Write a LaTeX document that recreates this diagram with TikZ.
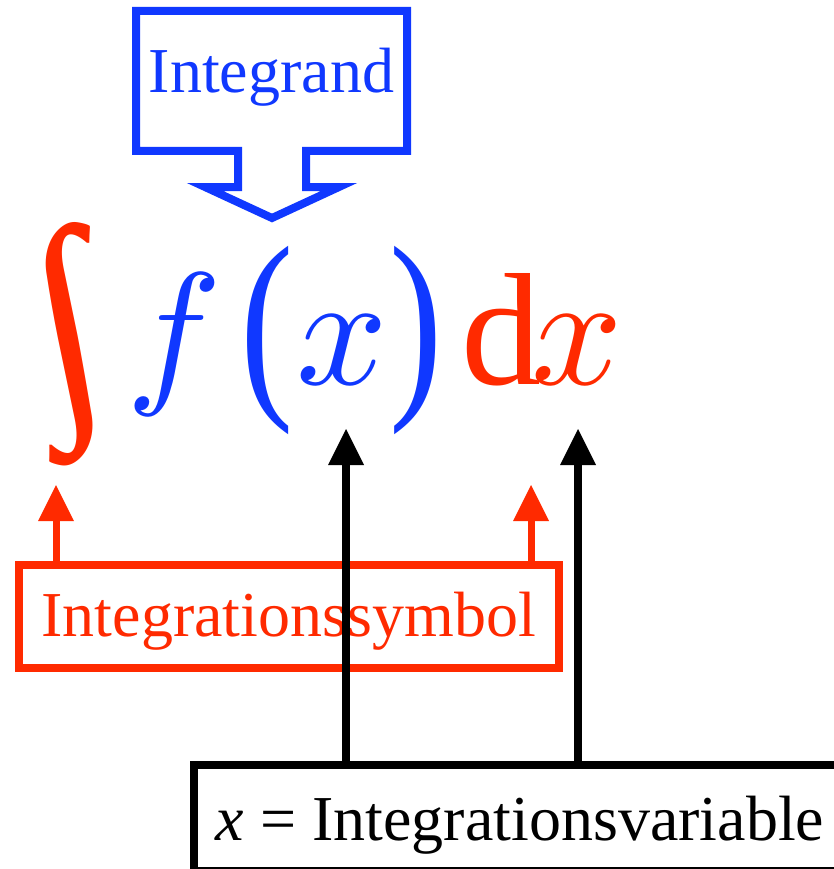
\documentclass[tikz,border=0pt]{standalone}
\usepackage{fontspec}
\setmainfont{Liberation Serif}[ItalicFont={Liberation Serif Italic}]
\usepackage{xcolor}
\usetikzlibrary{arrows.meta}

\definecolor{intblue}{RGB}{16,56,255}
\definecolor{intred}{RGB}{255,42,0}
\newcommand{\labelfont}{\fontsize{64}{64}\selectfont}
\newcommand{\glyphfont}{\fontsize{160}{160}\selectfont}
\newcommand{\bigvar}[1]{\scalebox{16}{\fontsize{10}{12}\selectfont$#1$}}

\begin{document}
\begin{tikzpicture}[
x=1pt,y=-1pt,
glyph/.style={inner sep=0pt,anchor=base,font=\glyphfont},
labelbox/.style={
rectangle,draw,line width=8pt,
inner sep=0pt,
font=\labelfont,
text height=50pt,
text depth=11pt
},
redarrow/.style={-{Triangle[length=36pt,width=36pt,line width=0pt]},line width=7pt,draw=intred},
blackarrow/.style={-{Triangle[length=36pt,width=36pt,line width=0pt]},line width=8pt,draw=black}
]
\useasboundingbox (0,0) rectangle (834,869);

% callout for the integrand
\node[inner sep=0pt,anchor=base,font=\labelfont,text=intblue] (integrand) at (271.5,93) {Integrand};
\draw[intblue,line width=8pt,miter limit=10]
(136,11) -- (407,11) -- (407,151) -- (306,151) -- (306,187) -- (339,187)
-- (272,218) -- (205,187) -- (238,187) -- (238,151) -- (136,151) -- cycle;

% the formula
\node[glyph,text=intred,xslant=-0.2,transform shape] (integral) at (81,399) {\scalebox{1.45}[1.55]{∫}};
\node[glyph,text=intblue] (ffun) at (174,384) {\bigvar{f}};
\node[glyph,text=intblue] (lparen) at (267,390) {\scalebox{1}[1.3]{(}};
\node[glyph,text=intblue] (xarg) at (342,384) {\bigvar{x}};
\node[glyph,text=intblue] (rparen) at (416,390) {\scalebox{1}[1.3]{)}};
\node[glyph,text=intred] (dsym) at (501,384) {d};
\node[glyph,text=intred] (xdiff) at (577,384) {\bigvar{x}};

% labels below
\node[labelbox,draw=intred,text=intred,minimum width=540.5pt,minimum height=103pt] (symbol) at (288.75,616.5) {Integrationssymbol};
\coordinate (symL) at (56,485);
\coordinate (symR) at (531,485);
\draw[redarrow] (symbol.north -| symL) -- (symL);
\draw[redarrow] (symbol.north -| symR) -- (symR);

\node[labelbox,minimum width=652pt,minimum height=106pt,text height=55pt] (variable) at (520,818) {\textit{x} = Integrationsvariable};
\coordinate (varL) at (346,429);
\coordinate (varR) at (578,429);
\draw[blackarrow] (variable.north -| varL) -- (varL);
\draw[blackarrow] (variable.north -| varR) -- (varR);

\end{tikzpicture}
\end{document}
